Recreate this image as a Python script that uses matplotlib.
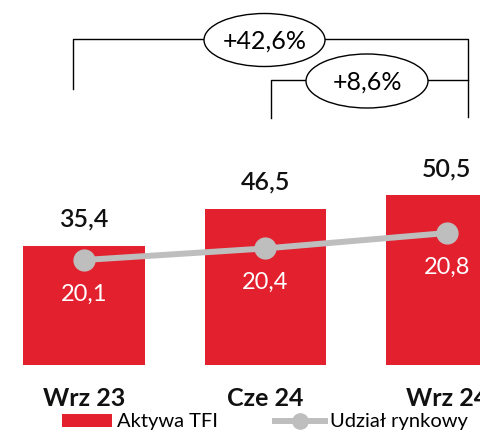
import matplotlib
matplotlib.use("Agg")
import matplotlib.pyplot as plt
from matplotlib.patches import Ellipse
from matplotlib.lines import Line2D
from matplotlib.patches import Patch

plt.rcParams['font.family'] = ['Lato', 'DejaVu Sans']

categories = ['Wrz 23', 'Cze 24', 'Wrz 24']
assets = [35.4, 46.5, 50.5]          # Aktywa TFI
share = [20.1, 20.4, 20.8]           # Udzial rynkowy
asset_labels = ['35,4', '46,5', '50,5']
share_labels = ['20,1', '20,4', '20,8']
growth_labels = ['+42,6%', '+8,6%']

red = '#E3202E'
gray = '#BEBEBE'

W, H = 480, 434
fig = plt.figure(figsize=(W / 100, H / 100), dpi=100)

# main axes: baseline at 365 px from top
ax = fig.add_axes([0, 69 / H, 1, 365 / H])
x = list(range(len(categories)))
ax.bar(x, assets, width=0.672, color=red, zorder=1)
ax.set_xlim(-0.463, 2.182)
ax.set_ylim(0, 108.6)
for i, v in enumerate(assets):
    ax.text(i, v + 7.9, asset_labels[i], ha='center', va='center',
            fontsize=18, fontweight='semibold', color='#111111')
ax.set_xticks(x)
ax.set_xticklabels(categories, fontsize=18, fontweight='bold', color='#111111')
ax.tick_params(axis='x', length=0, pad=16)
ax.set_yticks([])
for s in ax.spines.values():
    s.set_visible(False)

ax2 = ax.twinx()
ax2.set_ylim(17.378, 26.84)
ax2.plot(x, share, color=gray, lw=4.3, marker='o', ms=15,
         solid_capstyle='butt', zorder=3)
for i, v in enumerate(share):
    ax2.text(i, v - 0.88, share_labels[i], ha='center', va='center',
             fontsize=17, color='white')
ax2.set_yticks([])
for s in ax2.spines.values():
    s.set_visible(False)

# overlay for growth brackets (pixel coords)
ov = fig.add_axes([0, 0, 1, 1], facecolor='none')
ov.set_xlim(0, W)
ov.set_ylim(H, 0)
ov.axis('off')
lw = 1.0
ov.plot([73, 73, 468, 468], [89, 39, 39, 117], color='black', lw=lw)
ov.plot([271, 271, 468], [118, 80, 80], color='black', lw=lw)
ov.add_patch(Ellipse((264.5, 40), 121, 53, facecolor='white', edgecolor='black', lw=lw, zorder=3))
ov.add_patch(Ellipse((367, 81), 122, 54, facecolor='white', edgecolor='black', lw=lw, zorder=3))
ov.text(264.5, 41, growth_labels[0], ha='center', va='center', fontsize=18, zorder=4)
ov.text(367, 82, growth_labels[1], ha='center', va='center', fontsize=18, zorder=4)

handles = [Patch(facecolor=red, edgecolor='none'),
           Line2D([0], [0], color=gray, lw=4.3, marker='o', ms=11)]
fig.legend(handles, ['Aktywa TFI', 'Udział rynkowy'], ncol=2, frameon=False,
           loc='center left', bbox_to_anchor=(62 / W, 12 / H),
           fontsize=14.5, handlelength=2.5, handleheight=0.6,
           handletextpad=0.25, columnspacing=2.8, borderpad=0, borderaxespad=0)

fig.savefig('out.png', dpi=100)
